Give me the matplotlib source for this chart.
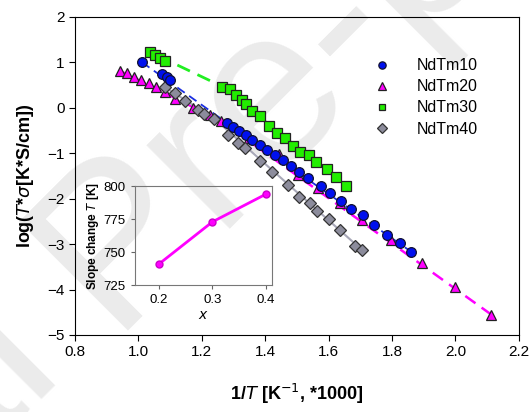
import matplotlib
matplotlib.use('Agg')
import matplotlib.pyplot as plt

plt.rcParams['font.family'] = ['Liberation Sans', 'DejaVu Sans']

# NdTm10
x10 = [1.012, 1.076, 1.090, 1.100, 1.281, 1.299, 1.317, 1.339, 1.360, 1.383, 1.406,
       1.431, 1.455, 1.481, 1.507, 1.536, 1.575, 1.604, 1.638, 1.672, 1.709, 1.744,
       1.784, 1.824, 1.860]
y10 = [1.00, 0.74, 0.67, 0.62, -0.34, -0.42, -0.505, -0.61, -0.70, -0.83, -0.93,
       -1.04, -1.16, -1.29, -1.41, -1.55, -1.73, -1.875, -2.06, -2.23, -2.37, -2.59,
       -2.80, -2.97, -3.165]
# NdTm20
x20 = [0.941, 0.965, 0.985, 1.007, 1.033, 1.057, 1.083, 1.117, 1.173, 1.225, 1.262,
       1.350, 1.443, 1.504, 1.567, 1.636, 1.704, 1.797, 1.894, 1.999, 2.113]
y20 = [0.82, 0.763, 0.688, 0.615, 0.543, 0.468, 0.34, 0.19, -0.006, -0.154, -0.30,
       -0.66, -1.02, -1.47, -1.765, -2.09, -2.477, -2.90, -3.41, -3.95, -4.55]
# NdTm30
x30 = [1.038, 1.054, 1.069, 1.083, 1.265, 1.288, 1.309, 1.327, 1.341, 1.360, 1.383,
       1.411, 1.438, 1.462, 1.487, 1.510, 1.538, 1.562, 1.595, 1.623, 1.656]
y30 = [1.224, 1.165, 1.092, 1.033, 0.468, 0.407, 0.286, 0.16, 0.088, -0.066, -0.176,
       -0.396, -0.556, -0.666, -0.842, -0.967, -1.044, -1.187, -1.347, -1.527, -1.725]
# NdTm40
x40 = [1.084, 1.116, 1.147, 1.188, 1.208, 1.240, 1.283, 1.315, 1.338, 1.383, 1.423,
       1.473, 1.506, 1.542, 1.565, 1.602, 1.637, 1.683, 1.704]
y40 = [0.455, 0.314, 0.138, -0.05, -0.132, -0.242, -0.593, -0.776, -0.886, -1.171, -1.418,
       -1.692, -1.963, -2.088, -2.27, -2.455, -2.68, -3.04, -3.12]

# fit lines (end points)
fit10_hi = ([1.012, 1.281], [1.00, -0.34])
fit10_lo = ([1.281, 1.860], [-0.34, -3.165])
fit20_hi = ([0.941, 1.262], [0.82, -0.30])
fit20_lo = ([1.262, 2.113], [-0.30, -4.55])
fit30_hi = ([1.060, 1.265], [1.15, 0.468])
fit30_lo = ([1.265, 1.656], [0.468, -1.725])
fit40_hi = ([1.084, 1.240], [0.455, -0.242])
fit40_lo = ([1.240, 1.704], [-0.242, -3.12])

# inset
xc = [0.2, 0.3, 0.4]
Tc = [741, 773, 794]

fig = plt.figure(figsize=(5.31, 4.12), dpi=100)
ax = fig.add_axes([0.141, 0.187, 0.836, 0.772])

# watermark, behind everything
wm = dict(fontsize=160, color='#ebebeb', rotation=45, rotation_mode='anchor',
          va='baseline', zorder=-5)
fig.text(0.207, 0.199, 'Pre-proof', ha='left', **wm)
fig.text(0.207, 0.199, 'Journal ', ha='right', **wm)

ax.set_facecolor('none')

ax.plot(*fit10_hi, '--', color='#1a2ee0', lw=1.3, dashes=(5, 3), zorder=2)
ax.plot(*fit10_lo, '--', color='#1a2ee0', lw=1.3, dashes=(5, 3), zorder=2)
ax.plot(*fit20_hi, '--', color='#ff00ff', lw=1.6, dashes=(5, 3), zorder=2)
ax.plot(*fit20_lo, '--', color='#ff00ff', lw=1.8, dashes=(5, 3), zorder=2)
ax.plot(*fit30_hi, '--', color='#22ee22', lw=2.0, dashes=(5, 3), zorder=2)
ax.plot(*fit30_lo, '-', color='#22ee22', lw=1.3, zorder=2)
ax.plot(*fit40_hi, '-', color='#a8a8b8', lw=1.5, zorder=2)
ax.plot(*fit40_lo, '-', color='#a8a8b8', lw=1.5, zorder=2)

ax.plot(x20, y20, '^', color='#ff00ff', mec='#222222', mew=0.9, ms=7.5, ls='none', label='NdTm20', zorder=3)
ax.plot(x40, y40, 'D', color='#8c8c9c', mec='#333333', mew=0.9, ms=6.5, ls='none', label='NdTm40', zorder=4)
ax.plot(x30, y30, 's', color='#22ee00', mec='#222222', mew=0.9, ms=6.5, ls='none', label='NdTm30', zorder=4)
ax.plot(x10, y10, 'o', color='#0010ee', mec='#111133', mew=0.9, ms=7, ls='none', label='NdTm10', zorder=5)

ax.set_xlim(0.8, 2.2)
ax.set_ylim(-5, 2)
ax.set_xticks([0.8, 1.0, 1.2, 1.4, 1.6, 1.8, 2.0, 2.2])
ax.set_yticks(range(-5, 3))
ax.tick_params(direction='out', length=4, labelsize=11)
ax.set_xlabel('1/$\\it{T}$ [K$^{-1}$, *1000]', fontsize=13, fontweight='bold', labelpad=16)
ax.set_ylabel('log($\\it{T}$*$\\it{\\sigma}$[K*S/cm])', fontsize=13, fontweight='bold', labelpad=8)

h, l = ax.get_legend_handles_labels()
order = [3, 0, 2, 1]
ax.legend([h[i] for i in order], [l[i] for i in order], loc='upper right',
          bbox_to_anchor=(0.94, 0.915), frameon=False, fontsize=11.5,
          handletextpad=1.2, labelspacing=0.38, markerscale=0.75)

ins = fig.add_axes([0.254, 0.308, 0.259, 0.240])
ins.set_facecolor('none')
ins.plot(xc, Tc, '-o', color='#ff00ff', mec='#cc00cc', lw=2, ms=5)
ins.set_xlim(0.155, 0.412)
ins.set_ylim(725, 800)
ins.set_xticks([0.2, 0.3, 0.4])
ins.set_yticks([725, 750, 775, 800])
ins.tick_params(direction='out', length=3, labelsize=9.5, color='#666666')
for s in ins.spines.values():
    s.set_color('#777777')
    s.set_linewidth(0.8)
ins.set_xlabel('$\\it{x}$', fontsize=10, fontweight='bold', labelpad=1)
ins.set_ylabel('Slope change $\\it{T}$ [K]', fontsize=8.5, fontweight='bold', labelpad=2)

fig.savefig('out.png', dpi=100)
